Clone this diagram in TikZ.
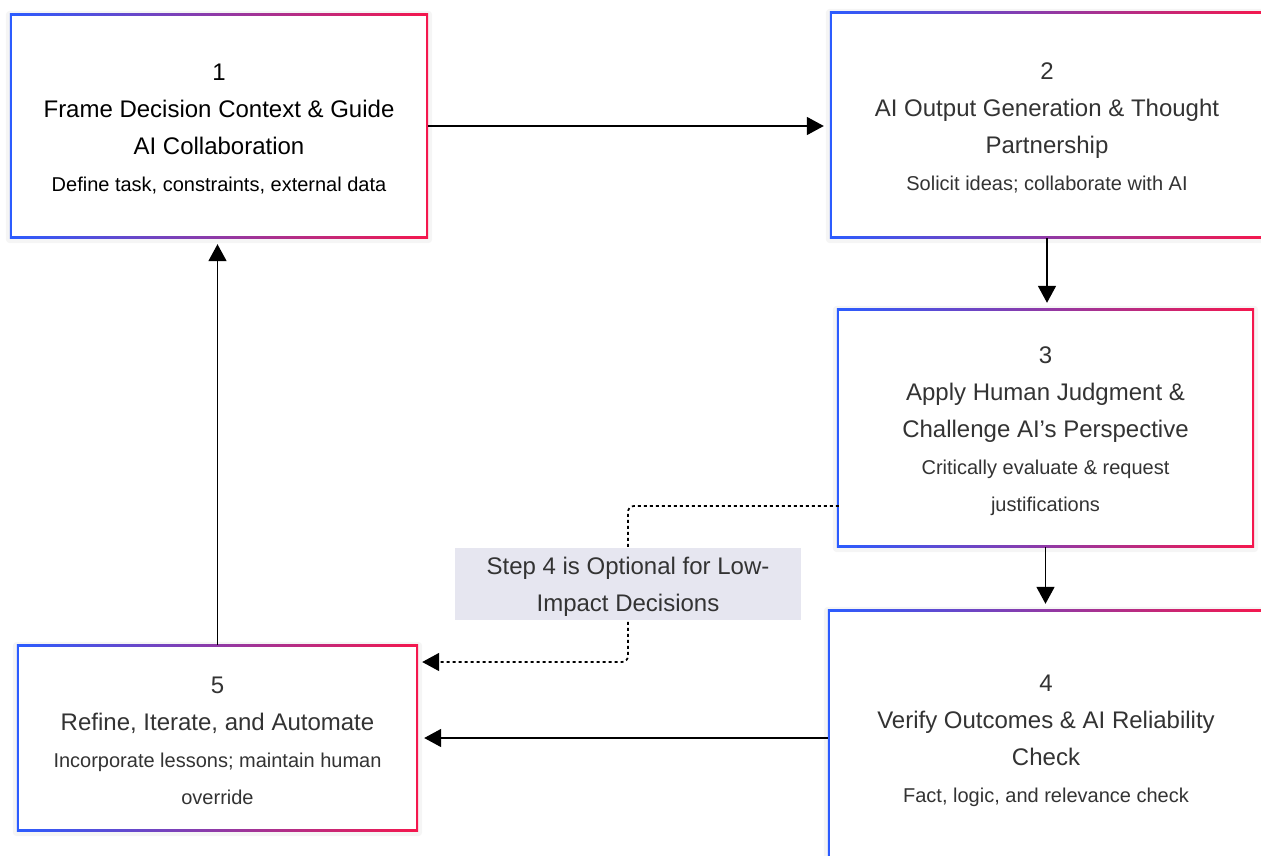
\documentclass[tikz,border=0pt]{standalone}
\usepackage{fontspec}
\setmainfont{Liberation Sans}
\usetikzlibrary{arrows.meta,backgrounds}
\definecolor{gblue}{HTML}{2B5CFF}
\definecolor{gred}{HTML}{F5174D}
\definecolor{txt}{HTML}{333333}
\definecolor{notebg}{HTML}{E6E6F0}
\newcommand{\subt}[1]{{\fontsize{20}{36}\selectfont #1}}
\newcommand{\topstrut}{\rule{0pt}{22.5pt}}
\tikzset{
  box/.style={rectangle, fill=white, inner sep=0pt, align=center, text=txt,
    font=\fontsize{24}{37}\selectfont},
  notebox/.style={rectangle, fill=notebg, inner sep=0pt, align=center, text=txt,
    font=\fontsize{24}{37}\selectfont, minimum width=346pt, minimum height=72pt},
  arr/.style={line width=1.7pt, -{Triangle[length=17pt,width=18pt]}, shorten >=6pt},
  dotline/.style={arr, dash pattern=on 3pt off 3pt, rounded corners=6pt},
}
\begin{document}
\begin{tikzpicture}[x=1pt,y=-1pt]
\useasboundingbox (0,0) rectangle (1261,856);
\clip (0,0) rectangle (1261,856);
\node[box, text=black, minimum width=414pt, minimum height=220pt] (b1) at (219,126)
  {\topstrut 1\\Frame Decision Context \& Guide\\AI Collaboration\\\subt{Define task, constraints, external data}};
\node[box, minimum width=430pt, minimum height=222pt] (b2) at (1047,125)
  {\topstrut 2\\AI Output Generation \& Thought\\Partnership\\\subt{Solicit ideas; collaborate with AI}};
\node[box, minimum width=413pt, minimum height=234pt] (b3) at (1045.5,428)
  {\topstrut 3\\Apply Human Judgment \&\\Challenge AI’s Perspective\\\subt{Critically evaluate \& request}\\\subt{justifications}};
\node[box, minimum width=432pt, minimum height=252pt] (b4) at (1046,738)
  {\topstrut 4\\Verify Outcomes \& AI Reliability\\Check\\\subt{Fact, logic, and relevance check}};
\node[box, minimum width=397pt, minimum height=182pt] (b5) at (217.5,738)
  {\topstrut 5\\Refine, Iterate, and Automate\\\subt{Incorporate lessons; maintain human}\\\subt{override}};
\node[notebox] (note) at (628,584) {\rule{0pt}{23.5pt}Step 4 is Optional for Low-\\Impact Decisions};
\coordinate (d1) at ([yshift=-78pt]b3.west);
\coordinate (d2) at ([yshift=76pt]b5.east);
\begin{scope}[on background layer]
  \foreach \n in {b1,b2,b3,b4,b5} {
    \fill[black, opacity=0.04, rounded corners=4pt] ([shift={(-6pt,-7pt)}]\n.south west) rectangle ([shift={(6pt,5pt)}]\n.north east);
    \shade[left color=gblue, right color=gred] ([shift={(-2pt,-2pt)}]\n.south west) rectangle ([shift={(2pt,2pt)}]\n.north east);
  }
  \draw[dotline] (d1) -- (note.center |- d1) -- (note.center |- d2) -- (d2);
\end{scope}
\draw[arr] ([xshift=2pt]b1.east) -- ([xshift=-2pt]b1.east -| b2.west);
\draw[arr] ([yshift=-2pt]b2.south) -- ([yshift=2pt]b2.south |- b3.north);
\draw[arr] ([yshift=-2pt]b3.south) -- ([yshift=2pt]b3.south |- b4.north);
\draw[arr] ([xshift=-2pt]b4.west) -- ([xshift=2pt]b4.west -| b5.east);
\draw[arr] ([yshift=2pt]b5.north) -- ([yshift=-2pt]b5.north |- b1.south);
\end{tikzpicture}
\end{document}
